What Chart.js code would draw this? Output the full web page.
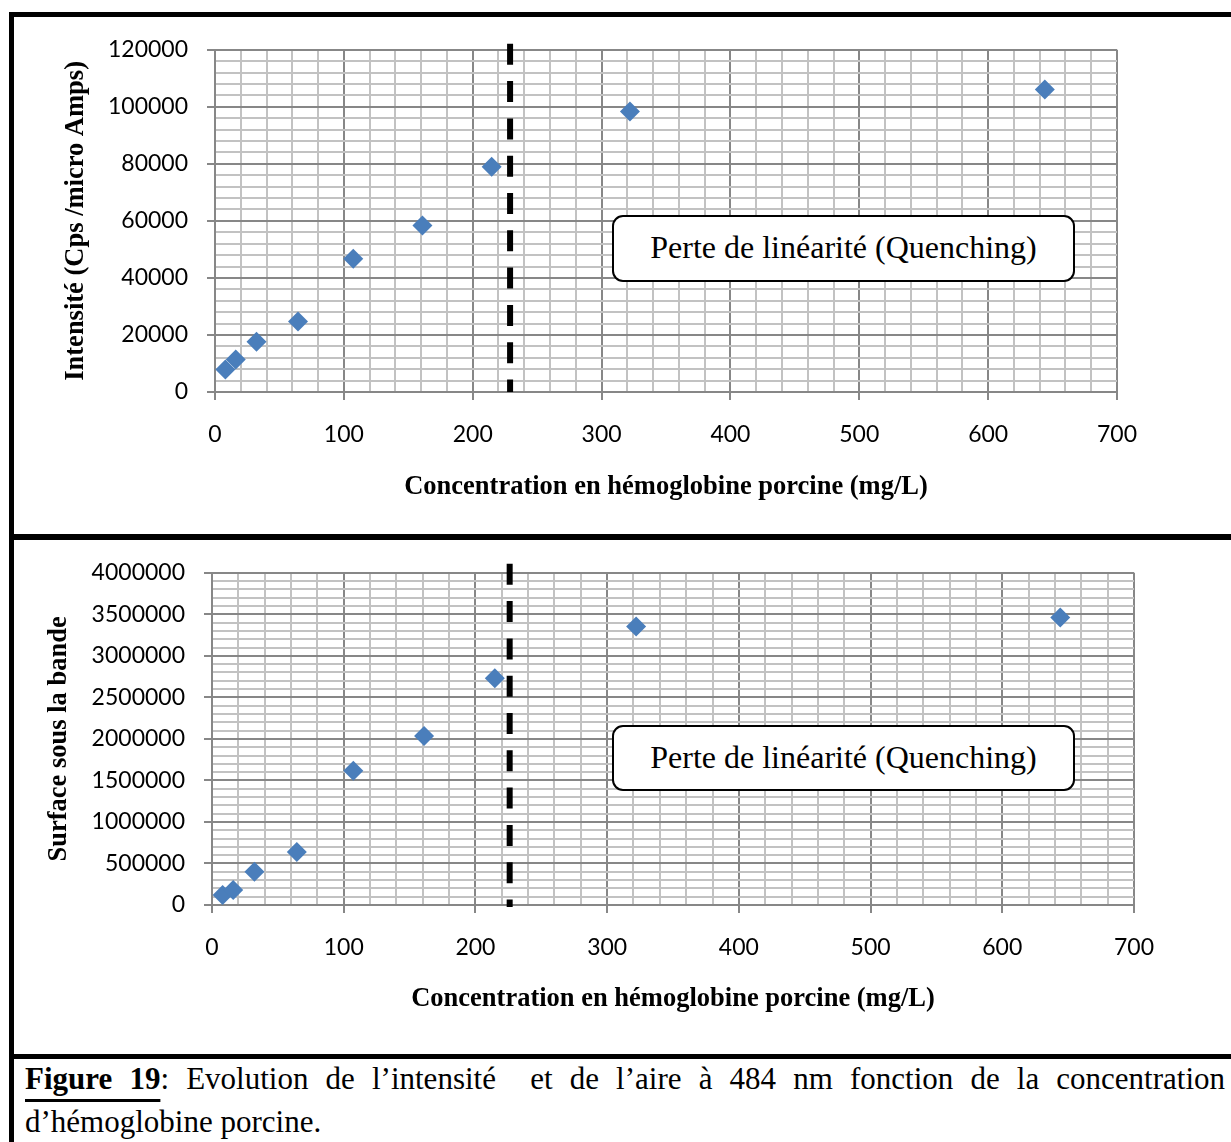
<!DOCTYPE html>
<html lang="fr">
<head>
<meta charset="UTF-8">
<title>Figure 19 - Hémoglobine porcine</title>
<script src="https://cdn.jsdelivr.net/npm/chart.js"></script>
<style>
    body {
        margin: 0;
        width: 1231px;
        height: 1142px;
        position: relative;
        overflow: hidden;
        background: #fff;
        font-family: "Liberation Serif", "Times New Roman", serif;
    }
    .rule { position: absolute; background: #000; }
    .panel { position: absolute; }
    .note {
        position: absolute;
        box-sizing: border-box;
        border: 2px solid #000;
        border-radius: 11px;
        background: #fff;
        font-size: 32px;
        display: flex;
        align-items: center;
        justify-content: center;
        padding-bottom: 2px;
    }
    .caption {
        position: absolute;
        left: 25px;
        width: 1200px;
        font-size: 31px;
        line-height: 46px;
    }
    .caption.first { top: 1056px; text-align: justify; text-align-last: justify; }
    .caption.second { top: 1099px; }
    .caption b {
        text-decoration: underline;
        text-decoration-thickness: 3px;
        text-underline-offset: 10px;
    }
</style>
</head>
<body>
    <!-- cadre -->
    <div class="rule" style="left:9px; top:12px; width:1222px; height:5px"></div>
    <div class="rule" style="left:9px; top:12px; width:5px; height:1130px"></div>
    <div class="rule" style="left:9px; top:534px; width:1222px; height:6px"></div>
    <div class="rule" style="left:9px; top:1054px; width:1222px; height:5px"></div>

    <div class="panel" style="left:14px; top:17px; width:1217px; height:517px"><canvas id="intensityChart"></canvas></div>
    <div class="panel" style="left:14px; top:540px; width:1217px; height:514px"><canvas id="areaChart"></canvas></div>

    <div class="note" style="left:612px; top:215px; width:463px; height:67px">Perte de linéarité (Quenching)</div>
    <div class="note" style="left:612px; top:725px; width:463px; height:66px">Perte de linéarité (Quenching)</div>

    <div class="caption first"><b>Figure 19</b>: Evolution de l’intensité&nbsp; et de l’aire à 484 nm fonction de la concentration</div>
    <div class="caption second">d’hémoglobine porcine.</div>

<script>
    // concentrations (mg/L)
    const concentrations = [8.05, 16.1, 32.2, 64.4, 107.3, 161, 214.7, 322, 644];
    // intensité à 484 nm (Cps / micro Amps)
    const intensities = [7900, 11400, 17600, 24700, 46700, 58400, 79000, 98400, 106100];
    // surface sous la bande
    const surfaces = [120000, 180000, 399000, 638000, 1617000, 2036000, 2730000, 3353000, 3461000];

    // limite de linéarité (trait pointillé)
    const cutoffIntensity = 229;
    const cutoffSurface = 226;

    const xMax = 700, xMinor = 20, xMajor = 100;

    const axisFont = { family: 'Lato', size: 23 };
    const titleFont = { family: 'Liberation Serif', size: 26.5, weight: 'bold' };
    const majorGrid = '#878787';
    const minorGrid = '#c2c2c2';

    function tickList(max, step) {
        const ticks = [];
        for (let v = 0; v <= max + step / 2; v += step) ticks.push({ value: v });
        return ticks;
    }

    const cutoffLine = {
        id: 'cutoffLine',
        afterDatasetsDraw(chart, args, opts) {
            const { ctx, chartArea, scales } = chart;
            const x = scales.x.getPixelForValue(opts.value);
            ctx.save();
            ctx.strokeStyle = '#000';
            ctx.lineWidth = 6;
            ctx.setLineDash([21, 16.3]);
            ctx.beginPath();
            ctx.moveTo(x, chartArea.top - opts.above);
            ctx.lineTo(x, chartArea.bottom + opts.below);
            ctx.stroke();
            ctx.restore();
        }
    };

    function makeChart(id, values, yMax, yMinor, yMajor, yTitle, cutoff, box) {
        return new Chart(document.getElementById(id), {
            type: 'scatter',
            data: {
                datasets: [{
                    data: concentrations.map((c, i) => ({ x: c, y: values[i] })),
                    pointStyle: 'rectRot',
                    pointRadius: 10,
                    pointHoverRadius: 10,
                    backgroundColor: '#4a7ebb',
                    borderWidth: 0
                }]
            },
            options: {
                responsive: true,
                maintainAspectRatio: false,
                animation: false,
                events: [],
                layout: { padding: { left: 0, top: box.top, right: box.right, bottom: 0 } },
                plugins: {
                    legend: { display: false },
                    tooltip: { enabled: false },
                    cutoffLine: cutoff
                },
                scales: {
                    x: {
                        type: 'linear',
                        min: 0,
                        max: xMax,
                        afterBuildTicks: s => { s.ticks = tickList(xMax, xMinor); },
                        afterFit: s => { s.height = box.xHeight; },
                        grid: {
                            lineWidth: 2,
                            tickLength: 8,
                            color: c => c.tick && c.tick.value % xMajor === 0 ? majorGrid : minorGrid,
                            tickColor: c => c.tick && c.tick.value % xMajor === 0 ? majorGrid : 'rgba(0,0,0,0)'
                        },
                        border: { color: majorGrid, width: 2 },
                        ticks: {
                            autoSkip: false,
                            maxRotation: 0,
                            padding: 21,
                            color: '#000',
                            font: axisFont,
                            callback: v => v % xMajor === 0 ? v : ''
                        },
                        title: {
                            display: true,
                            text: 'Concentration en hémoglobine porcine (mg/L)',
                            color: '#000',
                            font: titleFont,
                            padding: { top: 0, bottom: box.xTitlePad }
                        }
                    },
                    y: {
                        type: 'linear',
                        min: 0,
                        max: yMax,
                        afterBuildTicks: s => { s.ticks = tickList(yMax, yMinor); },
                        afterFit: s => { s.width = box.yWidth; },
                        grid: {
                            lineWidth: 2,
                            tickLength: 8,
                            color: c => c.tick && c.tick.value % yMajor === 0 ? majorGrid : minorGrid,
                            tickColor: c => c.tick && c.tick.value % yMajor === 0 ? majorGrid : 'rgba(0,0,0,0)'
                        },
                        border: { color: majorGrid, width: 2 },
                        ticks: {
                            autoSkip: false,
                            padding: 19,
                            color: '#000',
                            font: axisFont,
                            callback: v => v % yMajor === 0 ? v : ''
                        },
                        title: {
                            display: true,
                            text: yTitle,
                            color: '#000',
                            font: titleFont,
                            padding: { top: box.yTitlePad, bottom: 0 }
                        }
                    }
                }
            },
            plugins: [cutoffLine]
        });
    }

    makeChart('intensityChart', intensities, 120000, 4000, 20000,
        'Intensité (Cps /micro Amps)',
        { value: cutoffIntensity, above: 6, below: 0 },
        { top: 30, right: 114, xHeight: 142, yWidth: 201, xTitlePad: 31, yTitlePad: 46 });

    makeChart('areaChart', surfaces, 4000000, 100000, 500000,
        'Surface sous la bande',
        { value: cutoffSurface, above: 9, below: 2 },
        { top: 31, right: 97, xHeight: 149, yWidth: 198, xTitlePad: 39, yTitlePad: 29 });
</script>
</body>
</html>
